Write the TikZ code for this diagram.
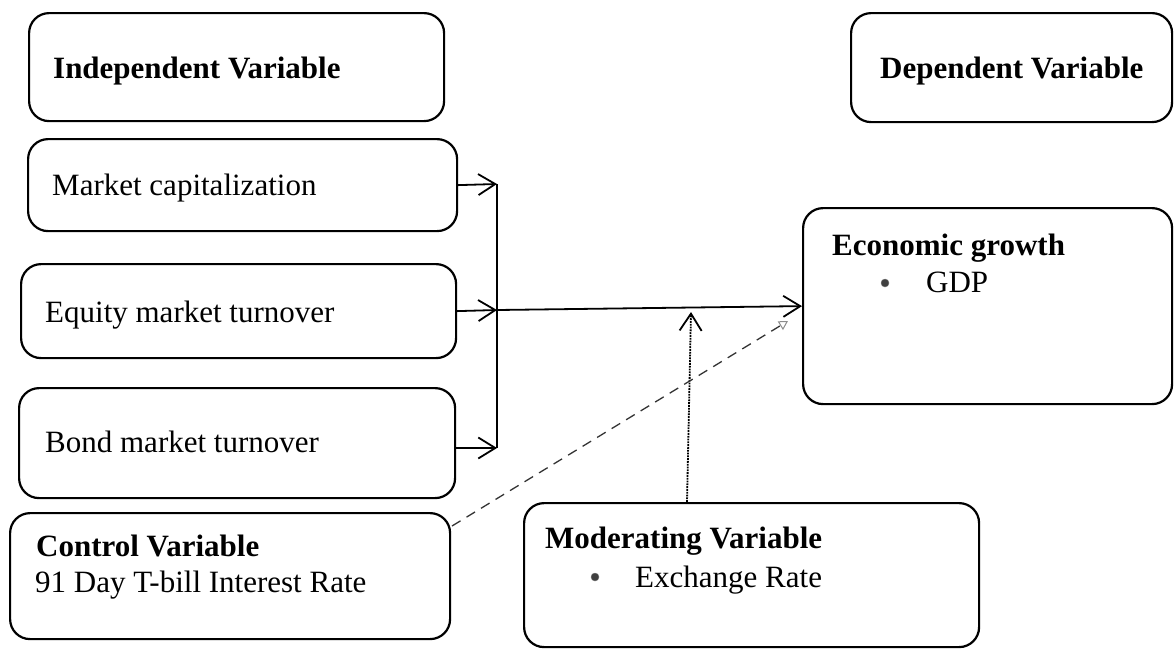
\documentclass[tikz,border=0pt]{standalone}
\usepackage{fontspec}
\setmainfont{Liberation Serif}
\usetikzlibrary{arrows.meta,calc}
\begin{document}
\begin{tikzpicture}[x=1pt,y=-1pt,
  box/.style={draw, line width=2.2pt, rounded corners=20pt, rectangle, anchor=north west, inner sep=0pt},
  txt/.style={anchor=base west, inner sep=0pt, font=\fontsize{31}{37}\selectfont},
  btxt/.style={txt, font=\fontsize{31}{37}\selectfont\bfseries},
  dotb/.style={circle, fill=black!75, draw=black!55, inner sep=0pt, minimum size=8pt},
  arr/.style={line width=1.8pt, -{Straight Barb[length=17pt,width=21pt,line width=1.8pt]}},
  bus/.style={line width=1.8pt},
  modarr/.style={line width=1.8pt, densely dotted, -{Straight Barb[length=17pt,width=22pt,line width=1.8pt]}},
  ctrlarr/.style={line width=1.3pt, dash pattern=on 10pt off 7pt, black!80, -{Triangle[open,length=9pt,width=10pt,line width=1pt,color=black!45]}}
]
\useasboundingbox (0,0) rectangle (1174,649);
% boxes
\node[box, minimum width=415pt, minimum height=108pt] (ind) at (28,12) {};
\node[box, minimum width=321pt, minimum height=109pt] (dep) at (850,12) {};
\node[box, minimum width=429pt, minimum height=92pt] (mc) at (27,138) {};
\node[box, minimum width=435pt, minimum height=94pt] (eq) at (20,263) {};
\node[box, minimum width=436pt, minimum height=110pt] (bond) at (18,387) {};
\node[box, minimum width=440pt, minimum height=126pt] (ctrl) at (9,512) {};
\node[box, minimum width=455pt, minimum height=144pt] (mod) at (523,502) {};
\node[box, minimum width=369pt, minimum height=196pt] (eco) at (802,207) {};
% texts
\node[btxt] (indt) at (53,78) {Independent Variable};
\node[btxt] (dept) at (880,78) {Dependent Variable};
\node[txt] (mct) at (52,195) {Market capitalization};
\node[txt] (eqt) at (45,322) {Equity market turnover};
\node[txt] (bondt) at (45,452) {Bond market turnover};
\node[btxt] (ctrlt) at (36,556) {Control Variable};
\node[txt] (ctrlv) at (35,592) {91 Day T-bill Interest Rate};
\node[btxt] (modt) at (545,548) {Moderating Variable};
\node[dotb] (modb) at (595,577) {};
\node[txt] (modv) at (635,587) {Exchange Rate};
\node[btxt] (ecot) at (832,255) {Economic growth};
\node[dotb] (ecob) at (885,283) {};
\node[txt] (ecov) at (926,292) {GDP};
% connectors
\coordinate (j1) at (497,184);
\coordinate (j2) at (497,310);
\coordinate (j3) at (497,448);
\draw[arr] (mc.east) -- (j1);
\draw[arr] (eq.east) -- (j2);
\draw[arr] (bond.east |- j3) -- (j3);
\draw[bus] (j1) -- (j3);
\draw[arr] (j2) -- (eco.west);
\coordinate (modin) at (687,502);
\coordinate (modtip) at (691,312);
\draw[modarr] (modin) -- (modtip);
\coordinate (ctrlout) at (452,526);
\coordinate (ctrltip) at (788,321);
\draw[ctrlarr] (ctrlout) -- (ctrltip);
\end{tikzpicture}
\end{document}
